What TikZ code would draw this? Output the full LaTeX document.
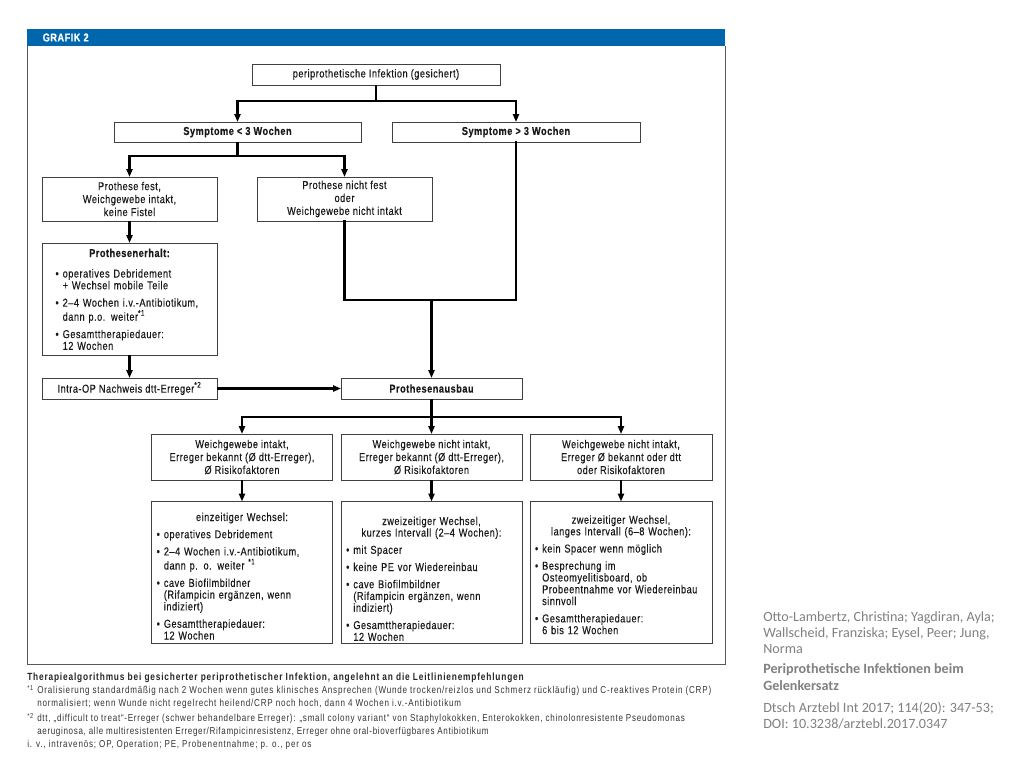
\documentclass[tikz,border=0pt]{standalone}
\usepackage{fontspec}
\setmainfont{Liberation Sans}
\newfontfamily\cf[FakeStretch=0.8,LetterSpace=4.5,FakeBold=0.3]{Liberation Sans}
\newfontfamily\ff[FakeStretch=0.8,LetterSpace=8]{Liberation Sans}
\newfontfamily\rf{Carlito}
\usetikzlibrary{arrows.meta}
\definecolor{hdr}{RGB}{0,103,172}
\definecolor{txt}{RGB}{25,25,25}
\definecolor{fnt}{RGB}{50,50,50}
\definecolor{side}{RGB}{128,128,128}
\setlength{\parindent}{0pt}
\newcommand\bl[1]{\par\vspace{3.2pt}\noindent\makebox[5.4pt][l]{•}{\renewcommand\arraystretch{0.89}\begin{tabular}[t]{@{}l@{}}#1\end{tabular}}}
\newcommand\hd[1]{{\centering\fontsize{8.6}{8.7}\selectfont #1\par}}
\newcommand\cfn{\cf\fontsize{8.6}{9.7}\selectfont}
\begin{document}
\begin{tikzpicture}[x=0.75pt,y=-0.75pt,
  box/.style 2 args={draw=black!75,line width=0.75pt,minimum width=#1*0.75pt,minimum height=#2*0.75pt,
    inner sep=0pt,outer sep=0pt,font=\cfn,text=txt,align=center},
  conn/.style={line width=1.9pt,line cap=rect},
  arr/.style={line width=1.9pt,-{Triangle[length=6pt,width=4.6pt]}},
]
\useasboundingbox (0,0) rectangle (1024,768);
% frame and header
\fill[hdr] (27,29) rectangle (725,46);
\draw[black!65,line width=0.75pt] (27,46) -- (27,664) -- (725,664) -- (725,46);
\node[anchor=west,text=white,font=\cf\bfseries\fontsize{8.6}{9}\selectfont] (hd) at (38,37.5) {GRAFIK 2};

% nodes
\node[box={248}{21}] (top) at (376,74.5) {periprothetische Infektion (gesichert)};
\node[box={247}{20}] (s1) at (237.5,132) {\bfseries Symptome < 3 Wochen};
\node[box={248}{20}] (s2) at (516,132) {\bfseries Symptome > 3 Wochen};
\node[box={175}{44}] (pf) at (129.5,199) {Prothese fest,\\Weichgewebe intakt,\\keine Fistel};
\node[box={175}{44}] (pn) at (344.5,199) {Prothese nicht fest\\oder\\Weichgewebe nicht intakt};
\node[box={175}{112},text width=111pt,align=left] (pe) at (129.5,299) {%
\hd{\bfseries Prothesenerhalt:}\vspace{2.5pt}
\bl{operatives Debridement\\+ Wechsel mobile Teile}
\bl{2–4 Wochen i.v.-Antibiotikum,\\dann p.o. weiter\textsuperscript{*1}}
\bl{Gesamttherapiedauer:\\12 Wochen}\par\vspace{-3pt}};
\node[box={175}{21}] (io) at (129.5,388.5) {Intra-OP Nachweis dtt-Erreger\textsuperscript{*2}};
\node[box={181}{21}] (pa) at (431.5,388.5) {\bfseries Prothesenausbau};
\node[box={181}{46}] (c1) at (242,457) {Weichgewebe intakt,\\Erreger bekannt (Ø dtt-Erreger),\\Ø Risikofaktoren};
\node[box={181}{46}] (c2) at (431.5,457) {Weichgewebe nicht intakt,\\Erreger bekannt (Ø dtt-Erreger),\\Ø Risikofaktoren};
\node[box={182}{46}] (c3) at (621,457) {Weichgewebe nicht intakt,\\Erreger Ø bekannt oder dtt\\oder Risikofaktoren};
\node[box={181}{142},text width=128pt,align=left] (d1) at (242,572.5) {%
\hd{einzeitiger Wechsel:}
\bl{operatives Debridement}
\bl{2–4 Wochen i.v.-Antibiotikum,\\dann p. o. weiter \textsuperscript{*1}}
\bl{cave Biofilmbildner\\(Rifampicin ergänzen, wenn\\indiziert)}
\bl{Gesamttherapiedauer:\\12 Wochen}\par\vspace{-8pt}};
\node[box={181}{142},text width=128pt,align=left] (d2) at (431.5,572.5) {%
\hd{zweizeitiger Wechsel,\par kurzes Intervall (2–4 Wochen):}
\bl{mit Spacer}
\bl{keine PE vor Wiedereinbau}
\bl{cave Biofilmbildner\\(Rifampicin ergänzen, wenn\\indiziert)}
\bl{Gesamttherapiedauer:\\12 Wochen}\par\vspace{-12pt}};
\node[box={182}{142},text width=129pt,align=left] (d3) at (621,572.5) {%
\hd{zweizeitiger Wechsel,\par langes Intervall (6–8 Wochen):}
\bl{kein Spacer wenn möglich}
\bl{Besprechung im\\Osteomyelitisboard, ob\\Probeentnahme vor Wiedereinbau\\sinnvoll}
\bl{Gesamttherapiedauer:\\6 bis 12 Wochen}\par\vspace{-6pt}};

% connectors
\coordinate (b1) at (376,101);
\draw[arr] (top.south) -- (b1) -| (s1.north);
\draw[arr] (top.south) -- (b1) -| (s2.north);
\coordinate (b2) at (237.5,156);
\draw[arr] (s1.south) -- (b2) -| (pf.north);
\draw[arr] (s1.south) -- (b2) -| (pn.north);
\draw[arr] (pf) -- (pe);
\draw[arr] (pe) -- (io);
\draw[arr] (io) -- (pa);
\coordinate (j) at (431.5,300);
\draw[conn] (pn.south) |- (j);
\draw[conn] (s2.south) |- (j);
\draw[arr] (j) -- (pa.north);
\coordinate (b3) at (431.5,417);
\draw[arr] (pa.south) -- (b3) -| (c1.north);
\draw[arr] (pa.south) -- (b3) -| (c3.north);
\draw[arr] (pa.south) -- (c2.north);
\draw[arr] (c1) -- (d1);
\draw[arr] (c2) -- (d2);
\draw[arr] (c3) -- (d3);

% caption and footnotes
\node[anchor=north west,align=left,inner sep=0pt,text=fnt,font=\ff\fontsize{7.55}{9.75}\selectfont] (fn) at (27,673) {%
{\fontsize{7.8}{9.75}\selectfont\bfseries\color{black!85}Therapiealgorithmus bei gesicherter periprothetischer Infektion, angelehnt an die Leitlinienempfehlungen}\\
\makebox[7.5pt][l]{\textsuperscript{*1}}Oralisierung standardmäßig nach 2 Wochen wenn gutes klinisches Ansprechen (Wunde trocken/reizlos und Schmerz rückläufig) und C-reaktives Protein (CRP)\\
\hspace*{7.5pt}normalisiert; wenn Wunde nicht regelrecht heilend/CRP noch hoch, dann 4 Wochen i.v.-Antibiotikum\\[1.5pt]
\makebox[7.5pt][l]{\textsuperscript{*2}}{\addfontfeature{LetterSpace=7.3}dtt, „difficult to treat“-Erreger (schwer behandelbare Erreger): „small colony variant“ von Staphylokokken, Enterokokken, chinolonresistente Pseudomonas}\\
\hspace*{7.5pt}{\addfontfeature{LetterSpace=6.5}aeruginosa, alle multiresistenten Erreger/Rifampicinresistenz, Erreger ohne oral-bioverfügbares Antibiotikum}\\
i. v., intravenös; OP, Operation; PE, Probenentnahme; p. o., per os};

% side reference
\node[anchor=north west,align=left,inner sep=0pt,text=side,font=\rf\fontsize{10.6}{12}\selectfont] (ref) at (763,611.5) {%
Otto-Lambertz, Christina; Yagdiran, Ayla;\\
Wallscheid, Franziska; Eysel, Peer; Jung,\\
Norma\\[3pt]
\bfseries Periprothetische Infektionen beim\\[0.5pt]
\bfseries Gelenkersatz\\[4.5pt]
Dtsch Arztebl Int 2017; 114(20): 347-53;\\
DOI: 10.3238/arztebl.2017.0347};
\end{tikzpicture}
\end{document}
